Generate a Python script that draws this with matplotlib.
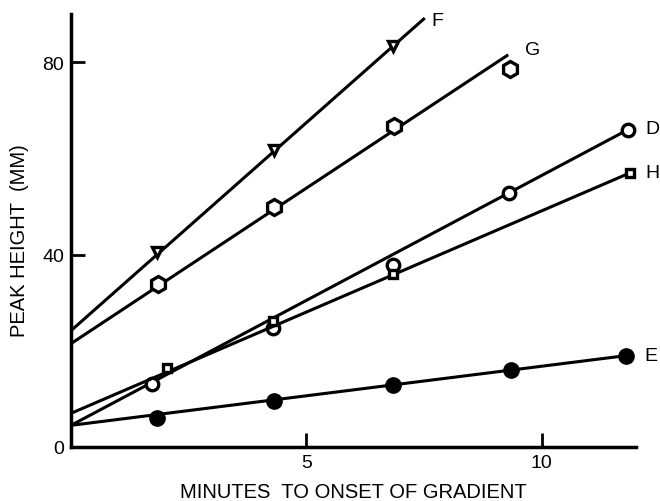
import matplotlib
matplotlib.use("Agg")
import matplotlib.pyplot as plt

plt.rcParams["font.family"] = ["Liberation Sans", "DejaVu Sans"]

# measured points (minutes, peak height mm)
f_x = [1.83, 4.32, 6.83]
f_y = [40.6, 61.7, 83.4]
g_x = [1.85, 4.32, 6.85, 9.32]
g_y = [34.0, 49.9, 66.7, 78.6]
d_x = [1.73, 4.30, 6.83, 9.30, 11.83]
d_y = [13.2, 24.8, 37.8, 52.8, 66.0]
h_x = [2.04, 4.30, 6.83, 11.87]
h_y = [16.4, 26.3, 36.0, 57.0]
e_x = [1.83, 4.32, 6.83, 9.34, 11.79]
e_y = [6.0, 9.5, 12.8, 16.1, 19.0]

# fitted lines drawn on the figure (end points)
f_line_x, f_line_y = [0, 7.49], [24.2, 89.0]
g_line_x, g_line_y = [0, 9.26], [21.5, 81.4]
d_line_x, d_line_y = [0, 11.83], [4.5, 66.0]
h_line_x, h_line_y = [0, 11.87], [7.0, 57.0]
e_line_x, e_line_y = [0, 11.79], [4.5, 19.0]

# curve labels: (text, x, y)
curve_labels = [("F", 7.66, 88.6), ("G", 9.64, 82.6), ("D", 12.21, 66.3),
                ("H", 12.21, 57.0), ("E", 12.17, 19.0)]

fig = plt.figure(figsize=(6.6, 5.02), dpi=100)
ax = fig.add_axes([0.1076, 0.1076, 0.856, 0.862])

lw = 2.2
mew = 2.4
ax.plot(f_line_x, f_line_y, color="black", lw=lw)
ax.plot(f_x, f_y, "v", ms=7, mfc="white", mec="black", mew=mew)
ax.plot(g_line_x, g_line_y, color="black", lw=lw)
ax.plot(g_x, g_y, "h", ms=11.5, mfc="white", mec="black", mew=mew)
ax.plot(d_line_x, d_line_y, color="black", lw=lw)
ax.plot(d_x, d_y, "o", ms=9, mfc="white", mec="black", mew=mew)
ax.plot(h_line_x, h_line_y, color="black", lw=lw)
ax.plot(h_x, h_y, "s", ms=6, mfc="white", mec="black", mew=mew)
ax.plot(e_line_x, e_line_y, color="black", lw=lw)
ax.plot(e_x, e_y, "o", ms=11, mfc="black", mec="black")

for txt, tx, ty in curve_labels:
    ax.text(tx, ty, txt, fontsize=14, ha="left", va="center", clip_on=False)

ax.set_xlim(0, 12)
ax.set_ylim(0, 90)
ax.set_xticks([5, 10])
ax.set_yticks([0, 40, 80])
ax.tick_params(direction="in", length=10, width=2, labelsize=14, pad=5)
for s in ["top", "right"]:
    ax.spines[s].set_visible(False)
for s in ["left", "bottom"]:
    ax.spines[s].set_linewidth(2.5)

ax.set_xlabel("MINUTES  TO ONSET OF GRADIENT", fontsize=14.5, labelpad=8)
ax.set_ylabel("PEAK HEIGHT  (MM)", fontsize=14.5)
ax.yaxis.set_label_coords(-0.075, 0.48)

fig.savefig("out.png", dpi=100)
